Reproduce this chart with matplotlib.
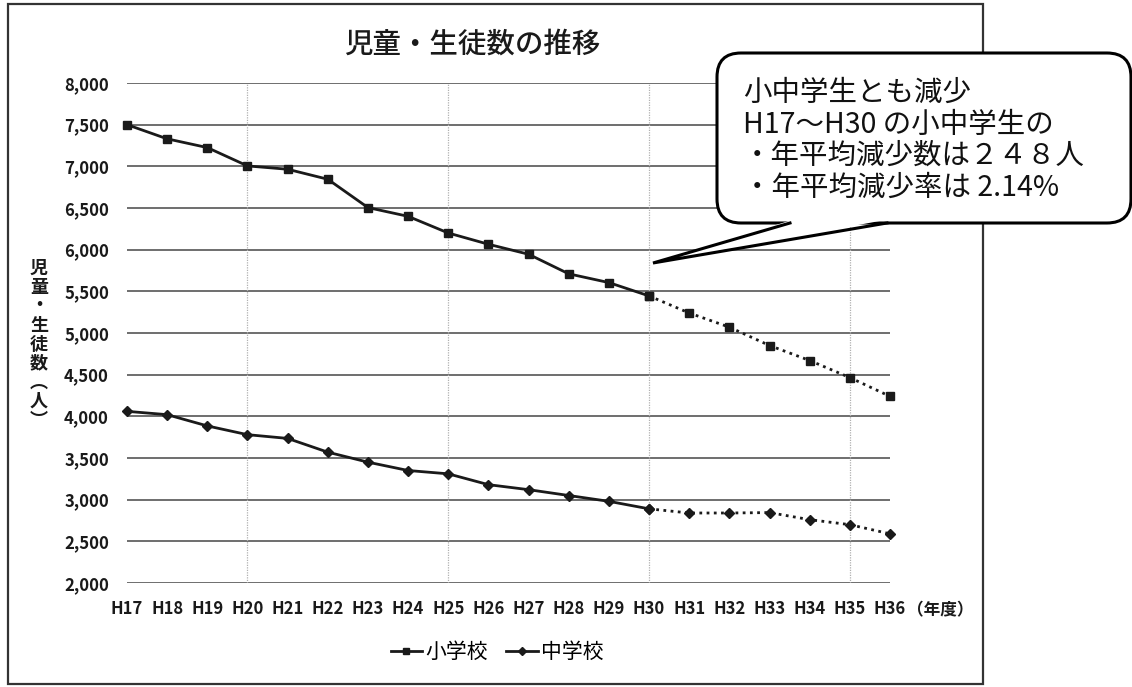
import matplotlib
matplotlib.use("Agg")
import matplotlib.pyplot as plt
from matplotlib.patches import FancyBboxPatch, Polygon, Rectangle
from matplotlib.lines import Line2D

plt.rcParams['font.family'] = ['Noto Sans CJK JP', 'DejaVu Sans']

# ---- data ----
years = ["H17", "H18", "H19", "H20", "H21", "H22", "H23", "H24", "H25", "H26",
         "H27", "H28", "H29", "H30", "H31", "H32", "H33", "H34", "H35", "H36"]
elementary = [7500, 7330, 7225, 7005, 6965, 6845, 6505, 6400, 6200, 6065,
              5945, 5710, 5605, 5445, 5240, 5070, 4850, 4670, 4465, 4240]
junior_high = [4060, 4020, 3885, 3780, 3735, 3570, 3450, 3350, 3310, 3180,
               3120, 3050, 2980, 2890, 2840, 2840, 2845, 2760, 2700, 2590]
last_actual = "H30"          # values after this year are projections
y_ticks = [2000, 2500, 3000, 3500, 4000, 4500, 5000, 5500, 6000, 6500, 7000, 7500, 8000]
series_names = ["小学校", "中学校"]
title = "児童・生徒数の推移"
y_label = "児童・生徒数︵人︶"
x_unit = "（年度）"
callout_lines = ["小中学生とも減少",
                 "H17～H30 の小中学生の",
                 "・年平均減少数は２４８人",
                 "・年平均減少率は 2.14%"]

W, H = 1132, 687
fig = plt.figure(figsize=(W / 100, H / 100), dpi=100)
fig.patch.set_facecolor("white")

ax = fig.add_axes([127 / W, 1 - 583 / H, (890 - 127) / W, (583 - 83) / H])
x = list(range(len(years)))
k = years.index(last_actual)
ink = "#1a1a1a"

# horizontal grid (solid) and sparse vertical guides (dotted)
for v in y_ticks:
    ax.axhline(v, color="#6e6e6e", lw=1.4, zorder=1)
for i in range(3, len(years), 5):
    ax.axvline(i, color="#b0b0b0", lw=0.9, ls=(0, (1, 1)), zorder=1)

dot = (0, (1, 1.6))
styles = [(elementary, "s", 6.0), (junior_high, "D", 5.2)]
for vals, mk, ms in styles:
    ax.plot(x[:k + 1], vals[:k + 1], color=ink, lw=2.0, marker=mk, ms=ms,
            clip_on=False, zorder=3)
    ax.plot(x[k:], vals[k:], color=ink, lw=2.0, ls=dot, zorder=3, clip_on=False)
    ax.plot(x[k:], vals[k:], color=ink, lw=0, marker=mk, ms=ms, zorder=4,
            clip_on=False)

ax.set_xlim(0, len(years) - 1)
ax.set_ylim(2000, 8000)
ax.set_xticks(x)
ax.set_xticklabels(years)
ax.set_yticks(y_ticks)
ax.set_yticklabels([f"{v:,}" for v in y_ticks])
ax.tick_params(length=0, labelsize=12, colors="#1a1a1a")
ax.tick_params(axis="y", pad=13)
ax.tick_params(axis="x", pad=12)
for lab in ax.get_xticklabels() + ax.get_yticklabels():
    lab.set_fontweight("bold")
for s in ax.spines.values():
    s.set_visible(False)

# overlay in pixel coordinates for frame, title and callout
ov = fig.add_axes([0, 0, 1, 1], zorder=5)
ov.set_xlim(0, W)
ov.set_ylim(H, 0)
ov.axis("off")

ov.add_patch(Rectangle((8, 4), 975, 680, fill=False, ec="#333333", lw=1.6))
ov.text(472, 44, title, fontsize=20.5, ha="center", va="center", color=ink,
        fontweight="medium")
ov.text(940, 610, x_unit, fontsize=12, ha="center", va="center", color="#1a1a1a",
        fontweight="bold")

# vertical (stacked) axis title, one character per row
for j, ch in enumerate(y_label):
    ov.text(39, 268 + j * 19, ch, fontsize=13, ha="center", va="center",
            color=ink, fontweight="bold")

# callout box with pointer
box = FancyBboxPatch((717, 53), 414, 170, boxstyle="round,pad=0,rounding_size=24",
                     fc="white", ec="black", lw=2.2, zorder=6)
ov.add_patch(box)
tip = (653, 263)
b1, b2 = (790, 223), (887, 223)
ov.add_patch(Polygon([(b1[0] + 2, b1[1] - 3), tip, (b2[0] - 2, b2[1] - 3)],
                     closed=True, fc="white", ec="none", zorder=7))
ov.plot([b1[0], tip[0], b2[0]], [b1[1], tip[1], b2[1]], color="black", lw=2.2,
        zorder=8, solid_joinstyle="miter")
for i, line in enumerate(callout_lines):
    ov.text(743, 93 + i * 31.5, line, fontsize=20.5, ha="left", va="center",
            color="#111111", zorder=9)

handles = [Line2D([], [], color=ink, lw=2, marker="s", ms=5),
           Line2D([], [], color=ink, lw=2, marker="D", ms=4.5)]
fig.legend(handles, series_names, loc="center", bbox_to_anchor=(497 / W, 1 - 652 / H),
           ncol=2, frameon=False, fontsize=15, handlelength=1.5, handletextpad=0.15,
           columnspacing=0.9)

fig.savefig("out.png", dpi=100, facecolor="white")
